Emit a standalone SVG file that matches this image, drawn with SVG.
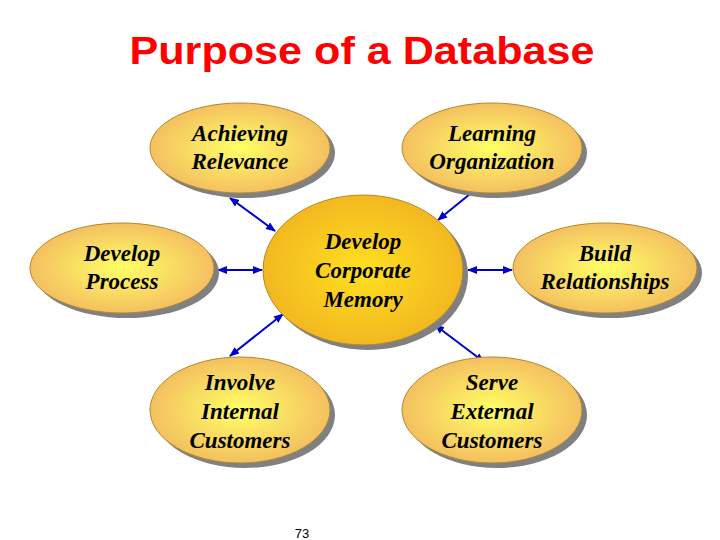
<svg xmlns="http://www.w3.org/2000/svg" width="720" height="540" viewBox="0 0 720 540">
<defs>
<radialGradient id="g" cx="0.5" cy="0.5" r="0.5"><stop offset="0" stop-color="#ffff66"/><stop offset="1" stop-color="#f4c060"/></radialGradient>
<radialGradient id="gc" cx="0.5" cy="0.5" r="0.5"><stop offset="0" stop-color="#ffe020"/><stop offset="1" stop-color="#f2b820"/></radialGradient>
<marker id="a" viewBox="0 0 10 10" refX="9" refY="5" markerWidth="5" markerHeight="5" orient="auto-start-reverse"><path d="M0,1 L10,5 L0,9 Z" fill="#0000cc"/></marker>
</defs>
<style>
.sh{fill:#808080}
.e{fill:url(#g);stroke:#b08830;stroke-width:1}
.t{font-family:"Liberation Serif",serif;font-style:italic;font-weight:bold;font-size:23px;text-anchor:middle;fill:#000}
.c line{stroke:#0000cc;stroke-width:2}
</style>
<text x="362" y="64" font-family="Liberation Sans,sans-serif" font-weight="bold" font-size="38" fill="#ff0000" text-anchor="middle" textLength="465" lengthAdjust="spacingAndGlyphs">Purpose of a Database</text>
<g class="c">
<line x1="230" y1="198" x2="275" y2="231" marker-start="url(#a)" marker-end="url(#a)"/>
<line x1="470" y1="194" x2="438" y2="220" marker-end="url(#a)"/>
<line x1="218" y1="270" x2="262" y2="270" marker-start="url(#a)" marker-end="url(#a)"/>
<line x1="468" y1="270" x2="512" y2="270" marker-start="url(#a)" marker-end="url(#a)"/>
<line x1="230" y1="356" x2="283" y2="314" marker-start="url(#a)" marker-end="url(#a)"/>
<line x1="435" y1="325" x2="484" y2="362" marker-start="url(#a)" marker-end="url(#a)"/>
</g>
<g id="n1"><ellipse class="sh" cx="245" cy="153" rx="90" ry="45"/><ellipse class="e" cx="240" cy="148" rx="90" ry="45"/><text class="t" x="240" y="141">Achieving</text><text class="t" x="240" y="169">Relevance</text></g>
<g id="n2"><ellipse class="sh" cx="497" cy="153" rx="90" ry="45"/><ellipse class="e" cx="492" cy="148" rx="90" ry="45"/><text class="t" x="492" y="141">Learning</text><text class="t" x="492" y="169">Organization</text></g>
<g id="n3"><ellipse class="sh" cx="127" cy="273" rx="92" ry="45"/><ellipse class="e" cx="122" cy="268" rx="92" ry="45"/><text class="t" x="122" y="261">Develop</text><text class="t" x="122" y="289">Process</text></g>
<g id="n4"><ellipse class="sh" cx="368" cy="275" rx="100" ry="75"/><ellipse cx="363" cy="270" rx="100" ry="75" fill="url(#gc)" stroke="#b08830"/><text class="t" x="363" y="249">Develop</text><text class="t" x="363" y="278">Corporate</text><text class="t" x="363" y="307">Memory</text></g>
<g id="n5"><ellipse class="sh" cx="610" cy="273" rx="92" ry="45"/><ellipse class="e" cx="605" cy="268" rx="92" ry="45"/><text class="t" x="605" y="261">Build</text><text class="t" x="605" y="289">Relationships</text></g>
<g id="n6"><ellipse class="sh" cx="245" cy="415" rx="90" ry="53"/><ellipse class="e" cx="240" cy="410" rx="90" ry="53"/><text class="t" x="240" y="390">Involve</text><text class="t" x="240" y="419">Internal</text><text class="t" x="240" y="448">Customers</text></g>
<g id="n7"><ellipse class="sh" cx="497" cy="415" rx="90" ry="53"/><ellipse class="e" cx="492" cy="410" rx="90" ry="53"/><text class="t" x="492" y="390">Serve</text><text class="t" x="492" y="419">External</text><text class="t" x="492" y="448">Customers</text></g>
<text x="302" y="538" font-family="Liberation Sans,sans-serif" font-size="13" text-anchor="middle">73</text>
</svg>
